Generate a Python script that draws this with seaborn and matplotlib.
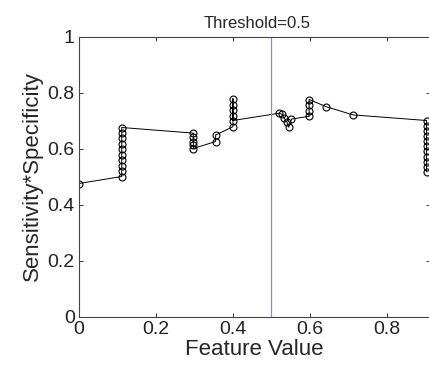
import seaborn as sns
import matplotlib.pyplot as plt

# Valores, en el orden en que se recorre la linea
feature_vals = [0.0,
                0.111, 0.111, 0.111, 0.111, 0.111, 0.111, 0.111, 0.111, 0.111, 0.111,
                0.297, 0.297, 0.297, 0.297, 0.297,
                0.355, 0.355,
                0.400, 0.400, 0.400, 0.400, 0.400, 0.400,
                0.520, 0.528, 0.533, 0.540, 0.545, 0.552,
                0.598, 0.598, 0.598, 0.598,
                0.643,
                0.712,
                0.903, 0.903, 0.903, 0.903, 0.903, 0.903, 0.903, 0.903, 0.903, 0.903, 0.903]
sens_spec = [0.475,
             0.500, 0.519, 0.539, 0.558, 0.578, 0.597, 0.617, 0.636, 0.656, 0.675,
             0.655, 0.640, 0.625, 0.612, 0.600,
             0.625, 0.648,
             0.678, 0.778, 0.757, 0.737, 0.717, 0.700,
             0.726, 0.722, 0.708, 0.695, 0.676, 0.705,
             0.715, 0.735, 0.755, 0.775,
             0.749,
             0.720,
             0.700, 0.682, 0.663, 0.645, 0.627, 0.608, 0.590, 0.571, 0.553, 0.535, 0.517]
threshold = 0.5
x_ticks = [0, 0.2, 0.4, 0.6, 0.8]
x_labels = ['0', '0.2', '0.4', '0.6', '0.8']
y_ticks = [0, 0.2, 0.4, 0.6, 0.8, 1]
y_labels = ['0', '0.2', '0.4', '0.6', '0.8', '1']

sns.set_style('ticks')
plt.rcParams['font.family'] = ['Liberation Sans', 'DejaVu Sans']

fig = plt.figure(figsize=(4.29, 3.77), dpi=100)
ax = fig.add_axes([79 / 429, 60.5 / 377, 351 / 429, 280 / 377])

sns.lineplot(x=feature_vals, y=sens_spec, sort=False, estimator=None, ax=ax,
             color='black', linewidth=0.7, marker='o', markersize=5,
             markerfacecolor='none', markeredgecolor='black', markeredgewidth=0.8)
ax.axvline(threshold, color='#8585ff', linewidth=0.9)

ax.set_xlim(0, 0.912)
ax.set_ylim(0, 1)
ax.set_xticks(x_ticks)
ax.set_xticklabels(x_labels)
ax.set_yticks(y_ticks)
ax.set_yticklabels(y_labels)
ax.tick_params(direction='in', length=3, width=0.7, labelsize=14, colors='#333333',
               top=True, right=True, labelcolor='#222222', pad=3)
for s in ax.spines.values():
    s.set_linewidth(0.8)
    s.set_color('#444444')

ax.set_xlabel('Feature Value', fontsize=16, labelpad=1)
ax.set_ylabel('Sensitivity*Specificity', fontsize=16, labelpad=3)
ax.set_title('Threshold=0.5', fontsize=12, x=0.507, pad=6)

fig.savefig('out.png', dpi=100)
